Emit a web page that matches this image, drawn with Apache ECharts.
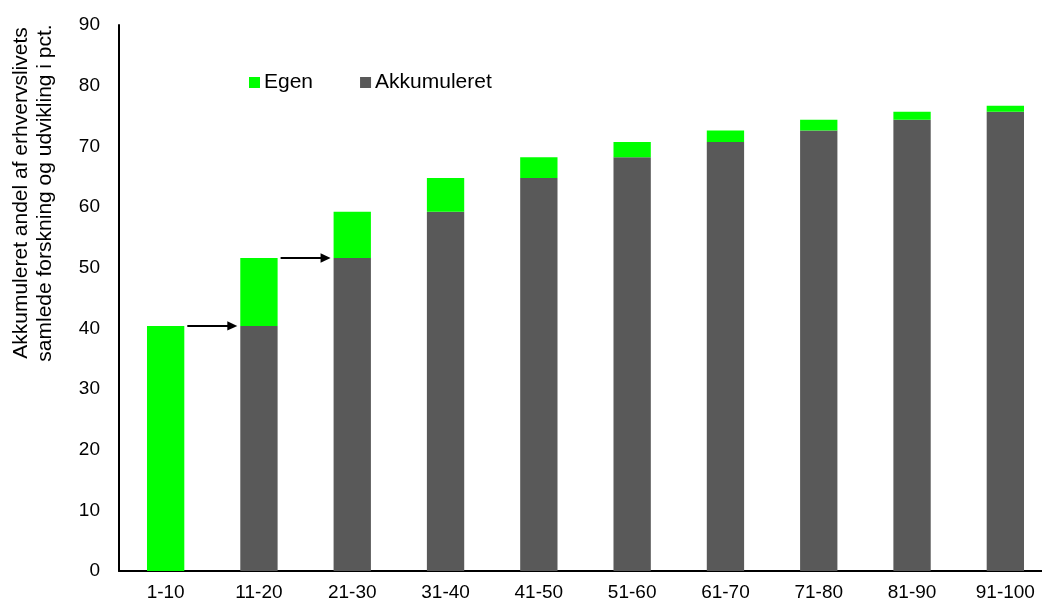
<!DOCTYPE html>
<html>
<head>
<meta charset="utf-8">
<script src="https://cdn.jsdelivr.net/npm/echarts@6/dist/echarts.min.js"></script>
<style>
html,body{margin:0;padding:0;background:#fff;}
#chart{width:1042px;height:606px;}
</style>
</head>
<body>
<div id="chart"></div>
<script>
// Data
const categories = ['1-10','11-20','21-30','31-40','41-50','51-60','61-70','71-80','81-90','91-100'];
const akkumuleret = [0, 40.4, 51.6, 59.2, 64.8, 68.2, 70.7, 72.6, 74.4, 75.7];
const egen = [40.4, 11.2, 7.6, 5.6, 3.4, 2.5, 1.9, 1.8, 1.3, 1.0];
const yTicks = [0, 10, 20, 30, 40, 50, 60, 70, 80, 90];
// arrows: [category index, level]
const arrows = [[0, 40.4], [1, 51.6]];
const yTitle = ['Akkumuleret andel af erhvervslivets', 'samlede forskning og udvikling i pct.'];

const FONT = '"Liberation Sans", Arial, sans-serif';
const chart = echarts.init(document.getElementById('chart'));

chart.setOption({
  animation: false,
  backgroundColor: '#fff',
  textStyle: { fontFamily: FONT },
  grid: { left: 119, top: 25, width: 933, height: 546, containLabel: false, outerBoundsMode: 'none' },
  legend: {
    data: ['Egen', 'Akkumuleret'],
    left: 244, top: 67,
    itemWidth: 11, itemHeight: 11, itemGap: 47,
    icon: 'rect',
    textStyle: { fontSize: 21, color: '#000', fontFamily: FONT, padding: [0,0,0,-1] }
  },
  xAxis: {
    type: 'category',
    data: categories,
    axisLine: { lineStyle: { color: '#000', width: 2 } },
    axisTick: { show: false },
    axisLabel: { color: '#000', fontSize: 19, margin: 12, fontFamily: FONT, interval: 0 }
  },
  yAxis: {
    type: 'value',
    min: yTicks[0], max: yTicks[yTicks.length - 1], interval: 10,
    axisLine: { show: true, lineStyle: { color: '#000', width: 2 } },
    axisTick: { show: false },
    splitLine: { show: false },
    axisLabel: { color: '#000', fontSize: 19, margin: 19, fontFamily: FONT }
  },
  graphic: [{
    type: 'text',
    x: 33, y: 193,
    rotation: Math.PI / 2,
    style: {
      text: yTitle.join('\n'),
      fontSize: 21, fontFamily: FONT, fill: '#000',
      align: 'center', verticalAlign: 'middle', lineHeight: 24
    }
  }],
  series: [
    {
      name: 'Akkumuleret', type: 'bar', stack: 'a', barWidth: '40%',
      itemStyle: { color: '#595959' },
      data: akkumuleret
    },
    {
      name: 'Egen', type: 'bar', stack: 'a', barWidth: '40%',
      itemStyle: { color: '#00FF00' },
      data: egen
    },
    {
      name: 'arrows', type: 'custom', silent: true, z: 10,
      data: arrows,
      renderItem: function (params, api) {
        const i = api.value(0), v = api.value(1);
        const p0 = api.coord([i, v]);
        const p1 = api.coord([i + 1, v]);
        const band = api.size([1, 0])[0];
        const bw = band * 0.4;
        const x0 = p0[0] + bw / 2 + 3;
        const x1 = p1[0] - bw / 2 - 3;
        const y = p0[1];
        const headLen = 10, headHalf = 4.7;
        return {
          type: 'group',
          children: [
            { type: 'line', shape: { x1: x0, y1: y, x2: x1 - headLen + 1, y2: y }, style: { stroke: '#000', lineWidth: 2 } },
            { type: 'polygon', shape: { points: [[x1, y], [x1 - headLen, y - headHalf], [x1 - headLen, y + headHalf]] }, style: { fill: '#000' } }
          ]
        };
      }
    }
  ]
});
</script>
</body>
</html>
